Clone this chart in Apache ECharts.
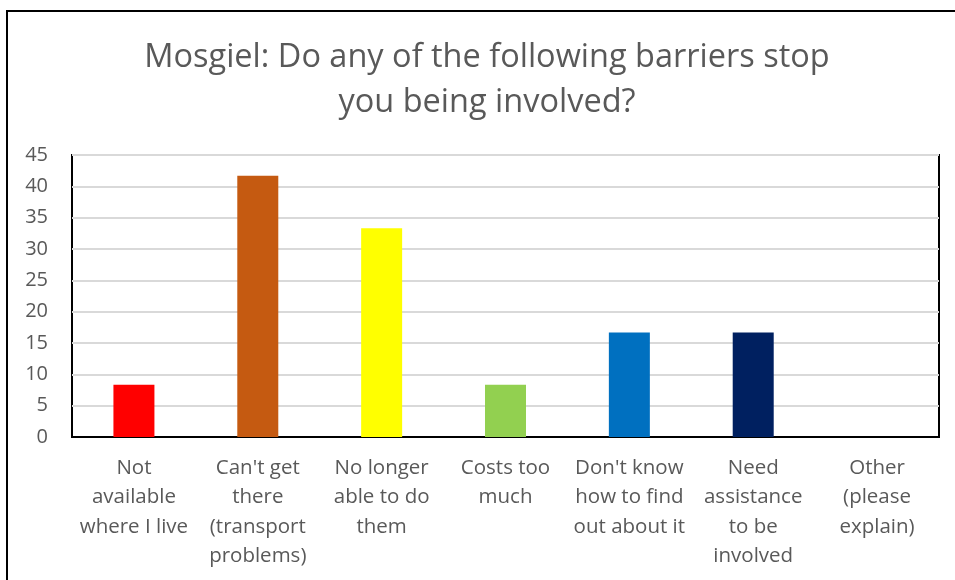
<!DOCTYPE html>
<html>
<head>
<meta charset="utf-8">
<script src="https://cdn.jsdelivr.net/npm/echarts@6/dist/echarts.min.js"></script>
<style>
  html, body { margin: 0; padding: 0; background: #fff; }
  #frame { position: absolute; left: 0; top: 0; width: 955px; height: 580px; overflow: hidden; }
  #edge { position: absolute; left: 6px; top: 10px; width: 1000px; height: 600px;
          border-left: 2px solid #000; border-top: 2px solid #000; box-sizing: border-box; }
  #chart { position: absolute; left: 0; top: 0; width: 955px; height: 580px; }
</style>
</head>
<body>
<div id="frame">
  <div id="edge"></div>
  <div id="chart"></div>
</div>
<script>
// Survey answers: barriers to being involved (Mosgiel)
const categories = [
  "Not\navailable\nwhere I live",
  "Can't get\nthere\n(transport\nproblems)",
  "No longer\nable to do\nthem",
  "Costs too\nmuch",
  "Don't know\nhow to find\nout about it",
  "Need\nassistance\nto be\ninvolved",
  "Other\n(please\nexplain)"
];
const values = [8.33, 41.67, 33.33, 8.33, 16.67, 16.67, 0];
const barColors = ["#FF0000", "#C55A11", "#FFFF00", "#92D050", "#0070C0", "#002060", "#7030A0"];
const yTicks = [0, 5, 10, 15, 20, 25, 30, 35, 40, 45];

const FONT = "'Open Sans', sans-serif";
const TEXT = "#595959";

const chart = echarts.init(document.getElementById('chart'), null, { renderer: 'canvas' });
chart.setOption({
  animation: false,
  backgroundColor: 'transparent',
  title: {
    text: "Mosgiel: Do any of the following barriers stop\nyou being involved?",
    left: 482,
    top: 30,
    textAlign: 'center',
    textStyle: { fontFamily: FONT, fontSize: 32.5, fontWeight: 'normal', color: TEXT, lineHeight: 45 }
  },
  grid: { left: 72, right: 16, top: 155, bottom: 143, show: true, borderColor: '#000', borderWidth: 2, containLabel: false },
  xAxis: {
    type: 'category',
    data: categories,
    axisTick: { show: false },
    axisLine: { show: true, lineStyle: { color: '#000', width: 2 } },
    axisLabel: { interval: 0, margin: 16, fontFamily: FONT, fontSize: 20.5, color: TEXT, lineHeight: 29.5, align: 'center' }
  },
  yAxis: {
    type: 'value',
    min: yTicks[0],
    max: yTicks[yTicks.length - 1],
    interval: 5,
    axisLine: { show: false },
    axisTick: { show: false },
    splitLine: { lineStyle: { color: '#d9d9d9', width: 2 } },
    axisLabel: { margin: 24, fontFamily: FONT, fontSize: 20, color: TEXT }
  },
  series: [{
    type: 'bar',
    barWidth: 41,
    data: values.map((v, i) => ({ value: v, itemStyle: { color: barColors[i] } }))
  }]
});
</script>
</body>
</html>
